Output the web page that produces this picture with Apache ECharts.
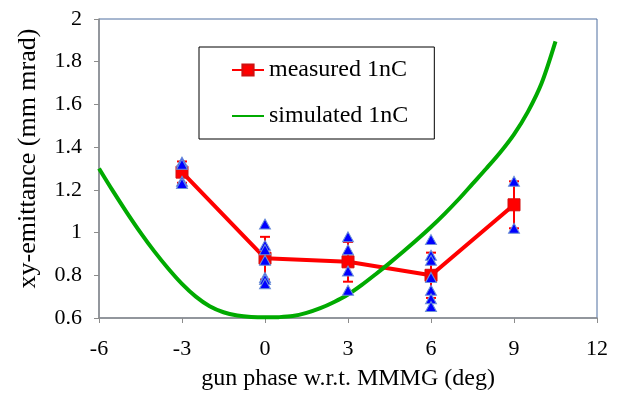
<!DOCTYPE html>
<html>
<head>
<meta charset="utf-8">
<script src="https://cdn.jsdelivr.net/npm/echarts@6/dist/echarts.min.js"></script>
<style>html,body{margin:0;padding:0;background:#fff}#c{width:623px;height:396px}</style>
</head>
<body>
<div id="c"></div>
<script>
// measured 1nC (mean) with error half-widths
var measX = [-3, 0, 3, 6, 9];
var measY = [1.283, 0.88, 0.863, 0.80, 1.13];
var measErr = [0.05, 0.10, 0.093, 0.106, 0.11];
// individual shots (blue triangles)
var shotX = [-3, -3, -3, -3, 0, 0, 0, 0, 0, 0, 0, 3, 3, 3, 3, 6, 6, 6, 6, 6, 6, 6, 9, 9];
var shotY = [1.33, 1.32, 1.24, 1.23, 1.04, 0.94, 0.92, 0.87, 0.79, 0.78, 0.76, 0.98, 0.92, 0.82, 0.73, 0.967, 0.894, 0.87, 0.79, 0.73, 0.69, 0.654, 1.24, 1.02];
// simulated 1nC
var simX = [-6, -5.5, -5, -4.5, -4, -3.5, -3, -2.5, -2, -1.5, -1, -0.5, 0, 0.5, 1, 1.5, 2, 2.5, 3, 3.5, 4, 4.5, 5, 5.5, 6, 6.5, 7, 7.5, 8, 8.5, 9, 9.5, 10, 10.5];
var simY = [1.30, 1.195, 1.095, 1.00, 0.912, 0.832, 0.76, 0.70, 0.655, 0.627, 0.612, 0.605, 0.603, 0.604, 0.609, 0.624, 0.646, 0.675, 0.71, 0.755, 0.805, 0.857, 0.911, 0.967, 1.026, 1.089, 1.156, 1.228, 1.30, 1.375, 1.46, 1.565, 1.70, 1.895];
var xTicks = [-6, 12, 3];
var yTicks = [0.6, 2, 0.2];

function pairs(xs, ys) { return xs.map(function (x, i) { return [x, ys[i]]; }); }
var errData = measX.map(function (x, i) { return [x, measY[i] - measErr[i], measY[i] + measErr[i]]; });

var FONT = 'Liberation Serif';
var chart = echarts.init(document.getElementById('c'), null, { renderer: 'canvas' });
chart.setOption({
  animation: false,
  backgroundColor: '#ffffff',
  grid: { left: 99, right: 26, top: 19, bottom: 72, show: true, borderColor: '#4f6fa0', borderWidth: 1 },
  legend: {
    orient: 'vertical', left: 199, top: 47,
    data: [{ name: 'measured 1nC' }, { name: 'simulated 1nC', itemStyle: { opacity: 0 } }],
    backgroundColor: '#fff',
    borderColor: '#000', borderWidth: 1,
    padding: [11, 26, 11, 32],
    itemWidth: 32, itemHeight: 14, itemGap: 22,
    textStyle: { fontFamily: FONT, fontSize: 24, color: '#000' }
  },
  xAxis: {
    type: 'value', min: xTicks[0], max: xTicks[1], interval: xTicks[2],
    name: 'gun phase w.r.t. MMMG (deg)', nameLocation: 'middle', nameGap: 49,
    nameTextStyle: { fontFamily: FONT, fontSize: 24, color: '#000' },
    axisLine: { lineStyle: { color: '#8c8c8c', width: 1.5 } },
    axisTick: { inside: false, length: 5, lineStyle: { color: '#8c8c8c' } },
    axisLabel: { fontFamily: FONT, fontSize: 22, color: '#000', margin: 20 },
    splitLine: { show: false }
  },
  yAxis: {
    type: 'value', min: yTicks[0], max: yTicks[1], interval: yTicks[2],
    name: 'xy-emittance (mm mrad)', nameLocation: 'middle', nameGap: 58,
    nameTextStyle: { fontFamily: FONT, fontSize: 26, color: '#000', padding: [0, 0, 0, 20] },
    axisLine: { show: true, onZero: false, lineStyle: { color: '#8c8c8c', width: 1.5 } },
    axisTick: { show: true, inside: false, length: 5, lineStyle: { color: '#8c8c8c' } },
    axisLabel: { fontFamily: FONT, fontSize: 22, color: '#000', margin: 17 },
    splitLine: { show: false }
  },
  series: [
    {
      name: 'measured 1nC', type: 'line', z: 2,
      data: pairs(measX, measY),
      lineStyle: { color: '#ff0000', width: 4 },
      itemStyle: { color: '#ff0000', borderColor: '#d01010', borderWidth: 1 },
      symbol: 'rect', symbolSize: 12, showSymbol: true
    },
    {
      name: 'simulated 1nC', type: 'line', z: 3,
      data: pairs(simX, simY), smooth: 0.3,
      lineStyle: { color: '#00aa00', width: 4 },
      itemStyle: { color: '#00aa00' },
      symbol: 'none'
    },
    {
      name: 'err', type: 'custom', z: 4,
      data: errData,
      renderItem: function (params, api) {
        var x = api.value(0);
        var lo = api.coord([x, api.value(1)]);
        var hi = api.coord([x, api.value(2)]);
        var w = 5;
        var st = { stroke: '#ff0000', lineWidth: 2 };
        return { type: 'group', children: [
          { type: 'line', shape: { x1: lo[0], y1: lo[1], x2: hi[0], y2: hi[1] }, style: st },
          { type: 'line', shape: { x1: lo[0] - w, y1: lo[1], x2: lo[0] + w, y2: lo[1] }, style: st },
          { type: 'line', shape: { x1: hi[0] - w, y1: hi[1], x2: hi[0] + w, y2: hi[1] }, style: st }
        ] };
      }
    },
    {
      name: 'shots', type: 'scatter', z: 5,
      data: pairs(shotX, shotY),
      symbol: 'triangle', symbolSize: [11, 10],
      itemStyle: { color: '#0000ff', borderColor: '#6f93d8', borderWidth: 1, opacity: 1 }
    }
  ]
});
</script>
</body>
</html>
